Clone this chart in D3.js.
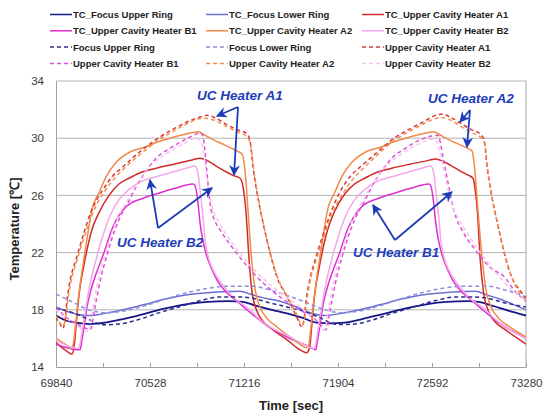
<!DOCTYPE html>
<html>
<head>
<meta charset="utf-8">
<script src="https://cdn.jsdelivr.net/npm/d3@7"></script>
<style>
  body { margin: 0; background: #fff; }
</style>
</head>
<body>
<div class="vis"></div>
<script>
// tick values
const xTicks = [69840, 70184, 70528, 70872, 71216, 71560, 71904, 72248, 72592, 72936, 73280];
const xLabels = [69840, 70528, 71216, 71904, 72592, 73280];
const yTicks = [14, 18, 22, 26, 30, 34];

// measured (TC_) series, [time sec, temp C]
const tcFocusUpper = [[69840,17.6],[69930,17.2],[70089,17.0],[70200,17.1],[70330,17.35],[70480,17.7],[70640,18.1],[70800,18.4],[70950,18.55],[71100,18.6],[71209,18.55],[71300,18.3],[71420,18.0],[71530,17.75],[71640,17.45],[71750,17.1],[71850,17.05],[71950,17.1],[72080,17.35],[72230,17.7],[72400,18.1],[72560,18.4],[72700,18.55],[72850,18.6],[72930,18.55],[73030,18.3],[73150,17.95],[73280,17.6]];
const tcFocusLower = [[69840,18.2],[69950,17.8],[70082,17.6],[70200,17.75],[70330,18.0],[70480,18.35],[70640,18.75],[70800,19.05],[70950,19.2],[71100,19.28],[71187,19.3],[71260,19.1],[71350,18.85],[71479,18.6],[71600,18.2],[71700,17.8],[71800,17.6],[71930,17.75],[72060,18.0],[72210,18.35],[72370,18.75],[72530,19.05],[72680,19.2],[72830,19.28],[72910,19.3],[72990,19.05],[73090,18.75],[73180,18.4],[73280,18.0]];
const tcHeaterA1 = [[69840,15.7],[69906,15.2],[69957,14.9],[69972,15.4],[69986,16.8],[70001,18.4],[70016,19.6],[70038,20.8],[70067,22.2],[70103,23.6],[70155,24.8],[70228,26.0],[70301,26.8],[70374,27.2],[70447,27.55],[70572,27.9],[70711,28.2],[70843,28.5],[70894,28.6],[70945,28.45],[71004,28.1],[71075,27.7],[71135,27.4],[71187,27.2],[71209,26.6],[71231,24.8],[71253,21.5],[71274,19.3],[71311,17.9],[71355,17.2],[71428,16.6],[71531,15.9],[71626,15.2],[71675,15.0],[71697,15.4],[71711,16.8],[71726,18.4],[71741,19.6],[71763,20.8],[71792,22.2],[71828,23.6],[71880,24.9],[71953,26.1],[72026,26.8],[72099,27.2],[72172,27.55],[72297,27.9],[72436,28.2],[72568,28.45],[72619,28.55],[72670,28.4],[72729,28.1],[72800,27.7],[72860,27.4],[72892,27.2],[72905,26.6],[72925,24.8],[72945,21.5],[72968,19.3],[73005,17.9],[73050,17.2],[73130,16.6],[73280,15.6]];
const tcHeaterB1 = [[69840,15.6],[69920,15.35],[70016,15.2],[70030,15.9],[70045,16.8],[70067,18.2],[70096,19.4],[70133,20.5],[70184,21.8],[70257,23.8],[70352,25.2],[70477,25.8],[70572,26.1],[70711,26.5],[70843,26.8],[70857,26.7],[70879,25.5],[70894,24.1],[70916,22.8],[70945,21.7],[70982,20.8],[71018,20.1],[71100,19.1],[71165,18.6],[71250,17.9],[71355,17.1],[71531,16.1],[71699,15.4],[71741,15.2],[71755,15.9],[71770,16.8],[71792,18.2],[71821,19.4],[71858,20.5],[71909,21.8],[71982,23.8],[72077,25.2],[72202,25.8],[72297,26.1],[72436,26.5],[72568,26.8],[72582,26.7],[72604,25.5],[72619,24.1],[72641,22.8],[72670,21.7],[72707,20.8],[72743,20.1],[72825,19.1],[72890,18.6],[72975,17.9],[73080,17.1],[73280,16.0]];
const tcHeaterA2 = [[69840,16.0],[69906,15.6],[69950,15.3],[69964,15.5],[69979,16.6],[70001,18.6],[70023,20.2],[70045,21.6],[70074,23.4],[70103,25.0],[70155,26.2],[70206,27.3],[70279,28.3],[70374,29.0],[70499,29.4],[70572,29.7],[70711,30.1],[70843,30.4],[70879,30.45],[70931,30.2],[70989,29.9],[71080,29.5],[71165,29.1],[71201,28.9],[71223,27.8],[71245,25.0],[71267,22.0],[71296,19.5],[71333,18.2],[71384,17.4],[71457,16.8],[71553,16.1],[71640,15.5],[71667,15.35],[71689,15.5],[71704,16.6],[71726,18.6],[71748,20.2],[71770,21.6],[71799,23.4],[71828,25.0],[71880,26.2],[71931,27.3],[72004,28.3],[72099,29.0],[72224,29.4],[72297,29.7],[72436,30.1],[72568,30.4],[72604,30.45],[72656,30.2],[72714,29.9],[72805,29.5],[72860,29.25],[72885,29.1],[72905,27.8],[72928,25.0],[72955,22.0],[72985,19.5],[73025,18.2],[73080,17.4],[73160,16.8],[73280,16.1]];
const tcHeaterB2 = [[69840,15.9],[69920,15.5],[70001,15.3],[70016,15.6],[70030,16.4],[70060,18.2],[70089,19.8],[70133,21.5],[70184,23.2],[70228,24.4],[70301,25.7],[70374,26.4],[70447,26.9],[70572,27.3],[70700,27.65],[70791,27.9],[70857,28.05],[70879,27.6],[70894,26.4],[70916,24.5],[70931,22.9],[70960,21.5],[70989,20.8],[71055,19.8],[71135,18.9],[71260,18.0],[71311,17.5],[71406,16.8],[71553,16.1],[71650,15.6],[71726,15.3],[71741,15.6],[71755,16.4],[71785,18.2],[71814,19.8],[71858,21.5],[71909,23.2],[71953,24.4],[72026,25.7],[72099,26.4],[72172,26.9],[72297,27.3],[72425,27.65],[72516,27.9],[72582,28.05],[72604,27.6],[72619,26.4],[72641,24.5],[72656,22.9],[72685,21.5],[72714,20.8],[72780,19.8],[72860,18.9],[72985,18.0],[73036,17.5],[73131,16.8],[73280,16.0]];

// simulated series
const simFocusUpper = [[69840,18.1],[69930,17.9],[70040,17.5],[70130,17.1],[70180,16.95],[70300,17.0],[70440,17.3],[70580,17.75],[70740,18.2],[70900,18.65],[71040,18.9],[71180,18.9],[71280,18.8],[71400,18.5],[71530,18.2],[71650,17.9],[71760,17.5],[71850,17.1],[71900,16.97],[72020,17.0],[72160,17.3],[72300,17.75],[72460,18.2],[72620,18.65],[72760,18.9],[72900,18.9],[73000,18.8],[73120,18.5],[73280,18.2]];
const simFocusLower = [[69840,19.1],[69950,18.6],[70080,18.0],[70200,17.8],[70330,17.9],[70480,18.25],[70640,18.75],[70800,19.2],[70950,19.5],[71100,19.65],[71280,19.65],[71400,19.4],[71530,19.0],[71650,18.6],[71780,18.1],[71920,17.8],[72050,17.9],[72200,18.25],[72360,18.75],[72520,19.2],[72670,19.5],[72820,19.65],[73000,19.65],[73120,19.4],[73280,18.9]];
const simHeaterA1 = [[69840,17.5],[69870,17.0],[69891,16.7],[69906,17.3],[69920,18.6],[69942,20.0],[69986,21.5],[70045,23.4],[70082,24.5],[70133,25.6],[70184,26.4],[70250,27.3],[70330,28.0],[70447,29.0],[70572,29.9],[70711,30.7],[70791,31.1],[70900,31.5],[70945,31.6],[71000,31.45],[71080,31.0],[71165,30.6],[71238,30.3],[71260,29.8],[71282,28.0],[71311,26.2],[71355,24.1],[71406,22.0],[71457,20.3],[71531,18.9],[71597,17.6],[71640,16.8],[71655,17.3],[71670,18.6],[71695,20.0],[71740,21.6],[71800,23.4],[71840,24.5],[71890,25.7],[71940,26.6],[72000,27.4],[72080,28.1],[72190,29.0],[72300,29.9],[72440,30.7],[72520,31.1],[72620,31.6],[72670,31.7],[72720,31.5],[72800,31.05],[72880,30.6],[72950,30.25],[72975,29.8],[72995,28.0],[73025,26.2],[73070,24.1],[73120,22.0],[73170,20.4],[73240,19.3],[73280,18.8]];
const simHeaterB1 = [[69840,18.2],[69900,17.6],[69990,17.0],[70060,16.7],[70089,16.6],[70103,16.9],[70118,17.8],[70140,18.9],[70170,20.3],[70206,21.6],[70250,23.0],[70301,24.3],[70374,25.6],[70426,26.6],[70521,28.0],[70572,28.6],[70674,29.3],[70784,29.9],[70870,30.3],[70894,30.4],[70916,30.1],[70931,29.0],[70945,27.6],[70967,25.5],[71004,24.2],[71040,23.6],[71135,22.3],[71311,20.3],[71479,18.9],[71626,18.0],[71740,17.3],[71790,16.8],[71814,16.6],[71828,16.9],[71843,17.8],[71865,18.9],[71895,20.3],[71931,21.6],[71975,23.0],[72026,24.3],[72099,25.6],[72151,26.6],[72246,28.0],[72297,28.6],[72399,29.3],[72509,29.9],[72590,30.15],[72636,30.2],[72655,29.6],[72672,28.7],[72709,26.9],[72738,25.5],[72770,24.4],[72810,23.6],[72900,22.3],[73040,20.8],[73112,20.4],[73200,19.3],[73280,18.6]];
const simHeaterA2 = [[69840,17.6],[69891,16.9],[69910,17.4],[69925,18.6],[69950,20.0],[69995,21.5],[70050,23.2],[70090,24.3],[70140,25.4],[70190,26.2],[70260,27.1],[70340,27.9],[70460,28.9],[70580,29.8],[70720,30.6],[70800,31.0],[70880,31.35],[70930,31.4],[71000,31.25],[71080,30.85],[71165,30.45],[71238,30.1],[71265,29.5],[71287,27.8],[71318,25.9],[71360,23.9],[71410,21.9],[71460,20.3],[71535,18.9],[71600,17.7],[71640,16.95],[71660,17.4],[71675,18.6],[71700,20.0],[71745,21.5],[71805,23.2],[71845,24.3],[71895,25.4],[71945,26.2],[72010,27.1],[72090,27.9],[72200,28.9],[72310,29.8],[72450,30.6],[72530,31.0],[72610,31.35],[72660,31.45],[72720,31.3],[72800,30.85],[72880,30.4],[72950,30.05],[72980,29.5],[73000,27.8],[73030,25.9],[73075,23.9],[73125,21.9],[73175,20.3],[73240,19.1],[73280,18.6]];
const simHeaterB2 = [[69840,18.0],[69990,16.9],[70074,16.5],[70089,16.8],[70103,17.7],[70125,18.9],[70155,20.3],[70190,21.6],[70235,23.0],[70285,24.3],[70360,25.6],[70412,26.5],[70505,27.8],[70560,28.3],[70660,29.0],[70770,29.6],[70870,30.0],[70900,29.8],[70916,29.2],[70935,28.0],[70955,26.5],[70990,25.0],[71040,24.0],[71135,22.6],[71311,20.6],[71479,19.2],[71626,18.2],[71730,17.3],[71800,16.6],[71814,16.8],[71828,17.7],[71850,18.9],[71880,20.3],[71915,21.6],[71960,23.0],[72010,24.3],[72085,25.6],[72137,26.5],[72230,27.8],[72285,28.3],[72385,29.0],[72495,29.6],[72600,29.95],[72630,29.7],[72650,29.1],[72670,28.2],[72700,26.8],[72740,25.3],[72790,24.3],[72880,22.9],[73050,20.7],[73200,19.2],[73280,18.7]];

// legend order (row by row)
const seriesNames = ["TC_Focus Upper Ring", "TC_Focus Lower Ring", "TC_Upper Cavity Heater A1",
  "TC_Upper Cavity Heater B1", "TC_Upper Cavity Heater A2", "TC_Upper Cavity Heater B2",
  "Focus Upper Ring", "Focus Lower Ring", "Upper Cavity Heater A1",
  "Upper Cavity Heater B1", "Upper Cavity Heater A2", "Upper Cavity Heater B2"];
const seriesData = [tcFocusUpper, tcFocusLower, tcHeaterA1, tcHeaterB1, tcHeaterA2, tcHeaterB2,
  simFocusUpper, simFocusLower, simHeaterA1, simHeaterB1, simHeaterA2, simHeaterB2];
const seriesColors = ["#16168a", "#6d6dd2", "#d22a2a", "#de2fcf", "#f08a48", "#f3a8e8",
  "#2c2c92", "#8e8ee4", "#d83838", "#e050d6", "#f0904e", "#f6c2ee"];

// annotations: label position, arrow origin, arrow tips (time, temp)
const noteLabels = ["UC Heater A1", "UC Heater A2", "UC Heater B2", "UC Heater B1"];
const notePos = [[70872, 32.67], [72563, 32.46], [70286, 22.39], [72014, 21.69]];
const noteFrom = [[71172, 32.18], [72870, 31.97], [70587, 23.72], [72321, 22.88]];
const noteTips = [[[71018, 31.55], [71143, 27.43]], [[72797, 31.13], [72848, 29.38]],
  [[70528, 27.08], [70982, 26.52]], [[72160, 25.33], [72738, 26.24]]];

drawChart();

function drawChart() {
    const margin = { top: 81, bottom: 49, left: 56, right: 17 };
    let width = 543 - margin.left - margin.right,
        height = 416 - margin.top - margin.bottom;

    let root = d3.select('.vis')
        .append("svg")
        .attr("width", 543)
        .attr("height", 416)
        .style("font-family", "'Liberation Sans', Arial, sans-serif");

    let svg = root.append("g")
        .attr("transform", "translate(" + margin.left + "," + margin.top + ")");

    const x = d3.scaleLinear().domain([69840, 73280]).range([0, width]);
    const y = d3.scaleLinear().domain([14, 34]).range([height, 0]);

    // gridlines
    svg.append("g")
        .selectAll("line")
        .data(yTicks.slice(1))
        .join("line")
        .attr("x1", 0).attr("x2", width)
        .attr("y1", d => y(d)).attr("y2", d => y(d))
        .attr("stroke", "#b4b4b4");

    // plot border right
    svg.append("line")
        .attr("x1", width).attr("x2", width)
        .attr("y1", 0).attr("y2", height)
        .attr("stroke", "#a8a8a8");

    // x axis, ticks pointing up
    let xAxis = svg.append("g").attr("transform", "translate(0," + height + ")")
        .call(
            d3.axisBottom(x)
                .tickValues(xTicks)
                .tickSizeInner(-4)
                .tickSizeOuter(0)
                .tickPadding(12)
                .tickFormat(d => xLabels.includes(d) ? d : "")
        );
    xAxis.select(".domain").attr("stroke", "#a0a0a0");
    xAxis.selectAll(".tick line").attr("stroke", "#a0a0a0");
    xAxis.selectAll("text").attr("fill", "#3a3a3a").style("font-size", "11.5px");

    let yAxis = svg.append("g")
        .call(
            d3.axisLeft(y)
                .tickValues(yTicks)
                .tickSize(0)
                .tickPadding(12)
        );
    yAxis.select(".domain").attr("stroke", "#a0a0a0");
    yAxis.selectAll("text").attr("fill", "#3a3a3a").style("font-size", "11.5px");

    // axis titles
    svg.append("text")
        .attr("x", width / 2)
        .attr("y", height + 43)
        .attr("text-anchor", "middle")
        .style("font-weight", "bold")
        .style("font-size", "13px")
        .attr("fill", "#222")
        .text("Time [sec]");

    svg.append("text")
        .attr("transform", "translate(" + (-37) + "," + (height / 2 + 5) + ") rotate(-90)")
        .attr("text-anchor", "middle")
        .style("font-weight", "bold")
        .style("font-size", "13px")
        .attr("fill", "#222")
        .text("Temperature [℃]");

    // lines
    svg.append("clipPath").attr("id", "plotclip")
        .append("rect").attr("width", width).attr("height", height);

    const line = d3.line()
        .x(d => x(d[0]))
        .y(d => y(d[1]))
        .curve(d3.curveMonotoneX);

    svg.append("g")
        .attr("clip-path", "url(#plotclip)")
        .selectAll("path")
        .data(seriesData)
        .join("path")
        .attr("d", line)
        .attr("fill", "none")
        .attr("stroke", (d, i) => seriesColors[i])
        .attr("stroke-width", (d, i) => i == 0 ? 1.8 : 1.5)
        .attr("stroke-dasharray", (d, i) => i >= 6 ? "4,3" : null);

    // annotations
    const blue = "#1d3db6";
    root.append("defs").append("marker")
        .attr("id", "arrowhead")
        .attr("viewBox", "0 0 10 10")
        .attr("refX", 9).attr("refY", 5)
        .attr("markerWidth", 6).attr("markerHeight", 6)
        .attr("orient", "auto")
        .append("path")
        .attr("d", "M0,0 L10,5 L0,10 L3,5 Z")
        .attr("fill", blue);

    noteLabels.forEach((label, i) => {
        svg.append("text")
            .attr("x", x(notePos[i][0]))
            .attr("y", y(notePos[i][1]))
            .style("font-weight", "bold")
            .style("font-style", "italic")
            .style("font-size", "13.5px")
            .attr("fill", blue)
            .text(label);
        noteTips[i].forEach(tip => {
            svg.append("line")
                .attr("x1", x(noteFrom[i][0])).attr("y1", y(noteFrom[i][1]))
                .attr("x2", x(tip[0])).attr("y2", y(tip[1]))
                .attr("stroke", blue)
                .attr("stroke-width", 1.8)
                .attr("marker-end", "url(#arrowhead)");
        });
    });

    // legend, 3 columns x 4 rows
    let legend = root.append("g");
    let items = legend.selectAll("g")
        .data(seriesNames)
        .join("g")
        .attr("transform", (d, i) => "translate(" + (50 + (i % 3) * 156) + "," + (14.5 + Math.floor(i / 3) * 16.3) + ")");

    items.append("line")
        .attr("x1", 0).attr("x2", 22)
        .attr("stroke", (d, i) => seriesColors[i])
        .attr("stroke-width", 1.5)
        .attr("stroke-dasharray", (d, i) => i >= 6 ? "4,3" : null);

    items.append("text")
        .attr("x", 23)
        .attr("y", 3.5)
        .style("font-size", "9.5px")
        .style("font-weight", "bold")
        .attr("fill", "#222")
        .text(d => d);
}
</script>
</body>
</html>
